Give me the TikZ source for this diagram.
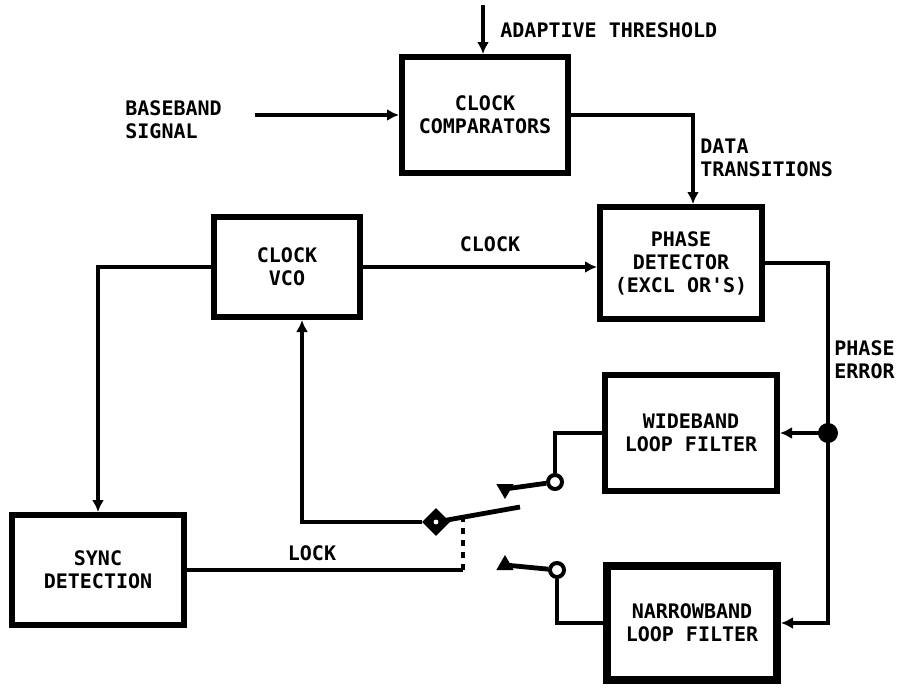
\documentclass[tikz,border=0pt]{standalone}
\usepackage{fontspec}
\setmonofont{DejaVu Sans Mono}
\usetikzlibrary{arrows.meta,shapes.geometric}

\begin{document}
\begin{tikzpicture}[x=0.5pt,y=-0.5pt,
  font=\ttfamily\bfseries\fontsize{10}{11.5}\selectfont,
  box/.style={draw, line width=3pt, align=center, inner sep=2pt},
  wire/.style={line width=2.4pt},
  arr/.style={wire, -{Latex[length=6pt,width=6pt]}},
  lbl/.style={align=left, inner sep=0pt, anchor=west},
  contact/.style={circle, draw, fill=white, line width=2pt, inner sep=0pt, minimum size=7pt},
  blade/.style={regular polygon, regular polygon sides=3, fill=black, inner sep=0pt, minimum size=10pt}]
\useasboundingbox (0,0) rectangle (901,687);

% Bloques
\node[box, minimum width=83pt, minimum height=58pt] (cmp) at (485,115) {CLOCK\\COMPARATORS};
\node[box, minimum width=81pt, minimum height=56pt] (pd) at (681,263) {PHASE\\DETECTOR\\(EXCL OR'S)};
\node[box, minimum width=73pt, minimum height=50pt] (vco) at (287,267) {CLOCK\\VCO};
\node[box, minimum width=86pt, minimum height=58pt] (wlf) at (691,433) {WIDEBAND\\LOOP FILTER};
\node[box, line width=4pt, minimum width=85pt, minimum height=57pt] (nlf) at (692,623) {NARROWBAND\\LOOP FILTER};
\node[box, minimum width=86pt, minimum height=55pt] (sync) at (98,570) {SYNC\\DETECTION};

% Entradas
\coordinate (thr) at (483,5);
\coordinate (bb) at (255,115);
\draw[arr] (thr) -- (thr |- cmp.north);
\draw[arr] (bb) -- (cmp.west);
\node[lbl] (thrl) at (500,30) {ADAPTIVE THRESHOLD};
\node[lbl] (bbl) at (125,120) {BASEBAND\\SIGNAL};

% Lazo de fase
\draw[arr] (cmp.east) -| ([xshift=6pt]pd.north);
\node[lbl] (dtl) at (700,158) {DATA\\TRANSITIONS};
\draw[arr] (vco.east) -- (vco.east -| pd.west);
\node (clkl) at (490,244) {CLOCK};
\coordinate (j) at (828,433);
\draw[arr] (pd.east) -| (j) |- (nlf.east);
\draw[arr] (j) -- (wlf.east);
\fill (j) circle (5pt);
\node[lbl] (pel) at (834,360) {PHASE\\ERROR};

% Conmutador
\node[contact] (cw) at (555,482) {};
\node[contact] (cn) at (557,570) {};
\node[blade, rotate=180] (tw) at (505,489) {};
\node[blade] (tn) at (505,565) {};
\draw[wire] (wlf.west) -| (cw);
\draw[wire] (tw.center) -- (cw);
\draw[wire] (tn.center) -- (cn);
\draw[wire] (cn) |- (nlf.west);
\node[diamond, fill=black, inner sep=0pt, minimum size=14pt] (piv) at (436,522) {};
\coordinate (bl) at (520,507);
\draw[wire] (piv.center) -- (bl);
\fill[white] (piv) circle (1.2pt);
\draw[arr] (piv) -| ([xshift=7.5pt]vco.south);

% Deteccion de sincronismo
\coordinate (lk) at (463,519);
\draw[wire] (sync.east) -- (sync.east -| lk);
\draw[wire, dashed] (sync.east -| lk) -- (lk);
\node (lockl) at (312,553) {LOCK};
\draw[arr] (vco.west) -| (sync.north);
\end{tikzpicture}
\end{document}
